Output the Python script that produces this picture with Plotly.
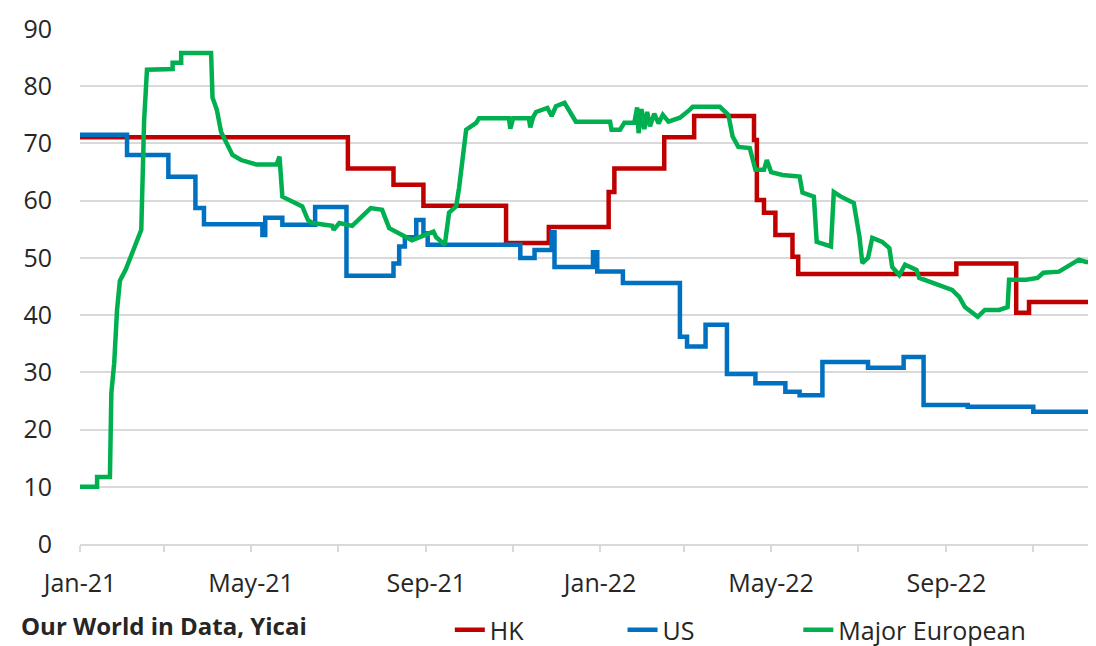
import plotly.graph_objects as go

# ---- data ----
hk_dates = ["2021-01-01", "2021-07-08", "2021-08-09", "2021-08-30", "2021-10-27", "2021-11-26",
            "2022-01-07", "2022-01-11", "2022-02-15", "2022-03-08", "2022-04-19", "2022-04-21",
            "2022-04-26", "2022-05-04", "2022-05-16", "2022-05-20", "2022-09-08", "2022-10-20",
            "2022-10-29", "2022-12-15"]
hk_values = [71.1, 65.6, 62.8, 59.1, 52.6, 55.4,
             61.5, 65.6, 71.1, 74.8, 70.6, 60.1,
             57.9, 54.0, 50.2, 47.2, 49.0, 40.4,
             42.3, 42.3]

us_dates = ["2021-01-01", "2021-02-03", "2021-03-04", "2021-03-23", "2021-03-29", "2021-05-09",
            "2021-05-11", "2021-05-23", "2021-06-15", "2021-07-07", "2021-08-09", "2021-08-13",
            "2021-08-17", "2021-08-25", "2021-08-30", "2021-09-02", "2021-11-06", "2021-11-16",
            "2021-11-28", "2021-11-30", "2021-12-27", "2021-12-30", "2022-01-17", "2022-02-26",
            "2022-03-03", "2022-03-16", "2022-03-31", "2022-04-20", "2022-05-11", "2022-05-21",
            "2022-06-06", "2022-07-08", "2022-08-02", "2022-08-16", "2022-09-16", "2022-11-01",
            "2022-12-15"]
us_values = [71.5, 68.0, 64.2, 58.7, 55.9, 54.0,
             57.0, 55.8, 58.9, 46.9, 49.0, 52.0,
             53.6, 56.6, 54.3, 52.3, 50.0, 51.4,
             54.5, 48.4, 51.0, 47.6, 45.6, 36.2,
             34.5, 38.3, 29.7, 28.1, 26.6, 26.0,
             31.8, 30.8, 32.7, 24.3, 24.0, 23.1,
             23.1]

eu_dates = ["2021-01-01", "2021-01-13", "2021-01-13", "2021-01-22", "2021-01-23", "2021-01-25",
            "2021-01-27", "2021-01-29", "2021-02-02", "2021-02-08", "2021-02-13", "2021-02-15",
            "2021-02-17", "2021-03-07", "2021-03-07", "2021-03-13", "2021-03-13", "2021-04-03",
            "2021-04-04", "2021-04-07", "2021-04-10", "2021-04-18", "2021-04-24", "2021-05-05",
            "2021-05-19", "2021-05-21", "2021-05-23", "2021-06-06", "2021-06-10", "2021-06-13",
            "2021-06-27", "2021-06-28", "2021-07-02", "2021-07-11", "2021-07-20", "2021-07-24",
            "2021-08-01", "2021-08-06", "2021-08-22", "2021-09-06", "2021-09-08", "2021-09-14",
            "2021-09-17", "2021-09-22", "2021-09-24", "2021-09-29", "2021-10-06", "2021-10-08",
            "2021-10-29", "2021-10-30", "2021-11-01", "2021-11-12", "2021-11-13", "2021-11-15",
            "2021-11-17", "2021-11-25", "2021-11-28", "2021-12-01", "2021-12-07", "2021-12-15",
            "2022-01-08", "2022-01-09", "2022-01-15", "2022-01-18", "2022-01-25", "2022-01-27",
            "2022-01-28", "2022-01-30", "2022-02-01", "2022-02-03", "2022-02-05", "2022-02-08",
            "2022-02-11", "2022-02-14", "2022-02-18", "2022-02-26", "2022-03-05", "2022-03-07",
            "2022-03-26", "2022-04-01", "2022-04-04", "2022-04-08", "2022-04-16", "2022-04-19",
            "2022-04-20", "2022-04-26", "2022-04-28", "2022-05-01", "2022-05-09", "2022-05-21",
            "2022-05-23", "2022-05-31", "2022-06-02", "2022-06-12", "2022-06-14", "2022-06-19",
            "2022-06-28", "2022-07-02", "2022-07-04", "2022-07-08", "2022-07-11", "2022-07-18",
            "2022-07-23", "2022-07-25", "2022-07-30", "2022-08-03", "2022-08-11", "2022-08-13",
            "2022-09-05", "2022-09-10", "2022-09-14", "2022-09-23", "2022-09-28", "2022-10-08",
            "2022-10-14", "2022-10-15", "2022-10-27", "2022-11-04", "2022-11-08", "2022-11-19",
            "2022-11-24", "2022-12-03", "2022-12-08", "2022-12-15"]
eu_values = [10.0, 10.0, 11.7, 11.7, 26.4, 31.6,
             40.9, 46.0, 47.9, 52.0, 54.9, 74.0,
             82.9, 83.0, 84.1, 84.1, 85.8, 85.8,
             78.0, 75.9, 72.0, 68.0, 67.1, 66.3,
             66.3, 67.7, 60.7, 59.0, 56.6, 56.1,
             55.6, 54.9, 56.1, 55.6, 57.9, 58.7,
             58.4, 55.2, 53.1, 54.6, 53.6, 52.3,
             57.9, 59.0, 62.2, 72.4, 73.6, 74.4,
             74.4, 72.6, 74.4, 74.4, 72.8, 74.6,
             75.5, 76.2, 74.8, 76.5, 77.1, 73.8,
             73.8, 72.4, 72.4, 73.6, 73.6, 76.3,
             71.8, 76.0, 72.5, 75.5, 73.0, 75.2,
             73.5, 75.0, 73.8, 74.5, 75.9, 76.4,
             76.4, 75.0, 71.2, 69.4, 69.2, 66.0,
             65.4, 65.4, 67.1, 65.0, 64.5, 64.2,
             61.4, 60.7, 52.8, 52.0, 61.5, 60.7,
             59.6, 53.7, 49.1, 50.0, 53.5, 52.8,
             51.7, 48.4, 47.0, 48.8, 47.9, 46.5,
             44.4, 43.2, 41.4, 39.7, 40.9, 40.9,
             41.4, 46.2, 46.2, 46.5, 47.4, 47.6,
             48.4, 49.7, 49.3, 49.3]

tick_dates = ["2021-01-01", "2021-03-01", "2021-05-01", "2021-07-01", "2021-09-01", "2021-11-01",
              "2022-01-01", "2022-03-01", "2022-05-01", "2022-07-01", "2022-09-01", "2022-11-01"]
tick_labels = ["Jan-21", "", "May-21", "", "Sep-21", "", "Jan-22", "", "May-22", "", "Sep-22", ""]
y_ticks = [0, 10, 20, 30, 40, 50, 60, 70, 80, 90]

series_names = ["HK", "US", "Major European"]
series_colors = ["#C00000", "#0070C0", "#00B050"]
legend_ids = ["legend", "legend2", "legend3"]
legend_x = [0.364, 0.534, 0.707]

FONT = "Open Sans"
FS = 25
TXT = "#262626"

fig = go.Figure()
for dates, vals, name, color, lid, shape in [
    (hk_dates, hk_values, series_names[0], series_colors[0], legend_ids[0], "hv"),
    (us_dates, us_values, series_names[1], series_colors[1], legend_ids[1], "hv"),
    (eu_dates, eu_values, series_names[2], series_colors[2], legend_ids[2], "linear"),
]:
    fig.add_trace(go.Scatter(x=dates, y=vals, mode="lines", name=name, legend=lid,
                             line=dict(color=color, width=4.5, shape=shape)))

legend_common = dict(orientation="h", xanchor="left", y=-0.167, yanchor="middle",
                     font=dict(family=FONT, size=FS, color=TXT), bgcolor="rgba(0,0,0,0)")

# the page body has an 8px default margin, so the figure is 8px smaller than the window
fig.update_layout(
    width=1088, height=638,
    margin=dict(l=72, r=0, t=21, b=102, autoexpand=False),
    paper_bgcolor="white", plot_bgcolor="white",
    font=dict(family=FONT, size=FS, color=TXT),
    showlegend=True,
    legend=dict(x=legend_x[0], **legend_common),
    legend2=dict(x=legend_x[1], **legend_common),
    legend3=dict(x=legend_x[2], **legend_common),
)

fig.update_xaxes(
    type="date", range=["2021-01-01", "2022-12-15"], automargin=False,
    tickmode="array", tickvals=tick_dates, ticktext=tick_labels,
    showgrid=False, showline=True, linecolor="#D9D9D9", linewidth=2,
    ticks="outside", ticklen=6, tickcolor="#D9D9D9", tickwidth=1.5,
    ticklabelstandoff=10, zeroline=False,
    tickfont=dict(family=FONT, size=FS, color=TXT),
)
fig.update_yaxes(
    range=[0, 90], tickmode="array", tickvals=y_ticks, automargin=False,
    showgrid=True, gridcolor="#D9D9D9", gridwidth=1.5,
    zeroline=False, showline=False, ticks="",
    ticklabelstandoff=27,
    tickfont=dict(family=FONT, size=FS, color=TXT),
)

fig.add_annotation(text="<b>Our World in Data, Yicai</b>", xref="paper", yref="paper",
                   x=-0.059, y=-0.192, xanchor="left", yanchor="bottom", showarrow=False,
                   borderpad=0,
                   font=dict(family=FONT, size=24, color=TXT))

fig.write_html("out.html")
